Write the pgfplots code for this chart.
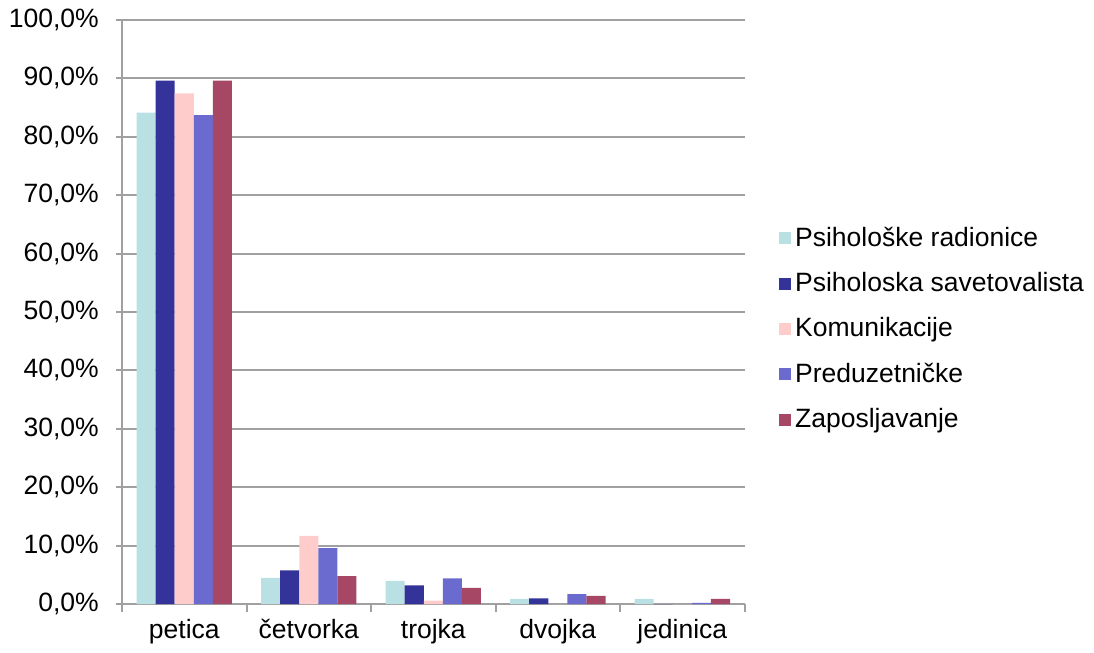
\documentclass[border=0pt]{standalone}
\usepackage{pgfplots}
\pgfplotsset{compat=1.18}
\usepackage{fontspec}
\setmainfont{Liberation Sans}
\definecolor{cA}{RGB}{185,224,226}
\definecolor{cB}{RGB}{51,51,153}
\definecolor{cC}{RGB}{255,204,204}
\definecolor{cD}{RGB}{107,107,207}
\definecolor{cE}{RGB}{166,71,102}
\definecolor{gr}{RGB}{160,160,160}
\newcommand{\ff}{\fontsize{13.2}{15.5}\selectfont}
\begin{document}
\ff
\begin{tikzpicture}
\begin{axis}[
  width=310pt, height=291pt, scale only axis,
  ybar=0pt, bar width=9.5pt,
  xmin=-0.5, xmax=4.5, ymin=0, ymax=100,
  xtick={0,1,2,3,4},
  xticklabels={petica,četvorka,trojka,dvojka,jedinica},
  major x tick style={draw=none},
  minor xtick={-0.5,0.5,1.5,2.5,3.5,4.5},
  minor x tick style={draw=gr, line width=1pt},
  minor tick length=4pt,
  xtick pos=bottom,
  ytick={0,10,...,100},
  yticklabels={{0,0\%},{10,0\%},{20,0\%},{30,0\%},{40,0\%},{50,0\%},{60,0\%},{70,0\%},{80,0\%},{90,0\%},{100,0\%}},
  ytick pos=left,
  ytick style={draw=gr, line width=1pt},
  major tick length=3pt,
  tick align=outside,
  ymajorgrids, grid style={draw=gr, line width=1pt},
  axis x line*=bottom, axis y line*=left,
  axis line style={draw=gr, line width=1pt},
  x axis line style={-}, y axis line style={-},
  tick label style={font=\ff},
  xticklabel style={yshift=0pt},
  yticklabel style={xshift=-4pt},
  legend style={draw=none, at={(1,0.5)}, anchor=west, xshift=14pt, yshift=-8.5pt,
    row sep=7pt, font=\ff},
  legend cell align=left,
  legend image code/.code={\fill[#1] (0pt,-3pt) rectangle (6pt,3pt);},
  every axis plot/.append style={draw=none},
]
\addplot[fill=cA] coordinates {(0,84.1) (1,4.5) (2,4.0) (3,0.9) (4,0.9)};
\addplot[fill=cB] coordinates {(0,89.6) (1,5.8) (2,3.2) (3,1.0) (4,0)};
\addplot[fill=cC] coordinates {(0,87.4) (1,11.7) (2,0.6) (3,0) (4,0)};
\addplot[fill=cD] coordinates {(0,83.7) (1,9.6) (2,4.4) (3,1.7) (4,0.2)};
\addplot[fill=cE] coordinates {(0,89.6) (1,4.8) (2,2.8) (3,1.4) (4,0.9)};
\legend{Psihološke radionice,Psiholoska savetovalista,Komunikacije,Preduzetničke,Zaposljavanje}
\end{axis}
\end{tikzpicture}
\end{document}
